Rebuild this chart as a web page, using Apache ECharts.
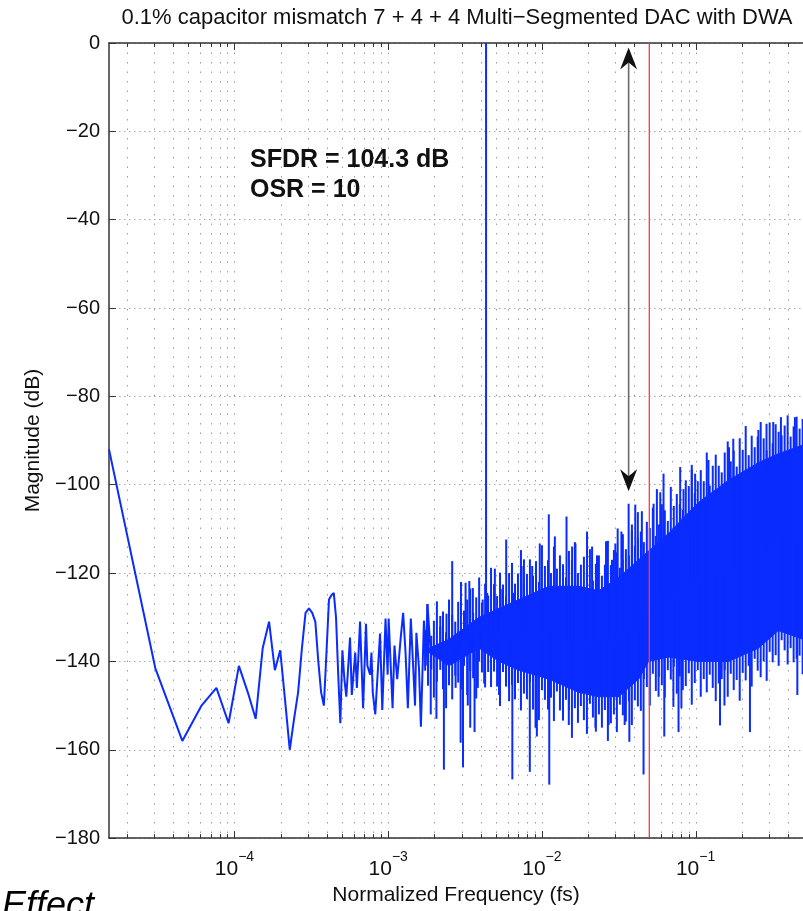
<!DOCTYPE html>
<html><head><meta charset="utf-8">
<script src="https://cdn.jsdelivr.net/npm/echarts@6/dist/echarts.min.js"></script>
<style>html,body{margin:0;padding:0;background:#fff}#c{width:803px;height:911px}</style>
</head><body><div id="c"></div>
<script>
// ---------------- data ----------------
const NFFT = 65536;                 // FFT length, frequency = bin / NFFT (normalized to fs)
const titleText = '0.1% capacitor mismatch 7 + 4 + 4 Multi\u2212Segmented DAC with DWA';
const xAxisName = 'Normalized Frequency (fs)';
const yAxisName = 'Magnitude (dB)';
const annotationLines = ['SFDR = 104.3 dB', 'OSR = 10'];
const footerText = 'Effect';
const xTickExps = [-4, -3, -2, -1];
const yTicks = [0, -20, -40, -60, -80, -100, -120, -140, -160, -180];

// low-frequency bins, drawn as a line [bin, dB]
const lowSpectrum = [
  [1,-92],[2,-141.5],[3,-158],[4,-150],[5,-146],[6,-154],[7,-141],[8,-147],[9,-153],[10,-137],
  [11,-131],[12,-142],[13,-137.5],[14,-149],[15,-160],[16,-153],[17,-147],[18,-137],[19,-129],[20,-128],
  [21,-129],[22,-131],[23,-140],[24,-147],[25,-150],[26,-138],[27,-126],[28,-125],[29,-124.5],[30,-130],
  [31,-143],[32,-154]
];
const midSpectrum = [
  [33,-137.5],[34,-144],[35,-148],[37,-134.6],[38,-147.6],[40,-138],[41,-146],[43,-131],[45,-150.6],[47,-131.5],
  [48,-141],[50,-143],[51,-138],[52,-147],[54,-152],[58,-133.7],[60,-151],[63,-130.3],[65,-143],[66,-130.3],
  [70,-150.6],[72,-136.4],[75,-144],[79,-134.8],[82,-129],[85,-138],[88,-150.6],[92,-130.3],[98,-150],[100,-133.5],
  [104,-141.6],[107,-154.8],[112,-130.8],[115,-141],[118,-127],[124,-138]
];
// dense part: per-column extent of the spectrum [bin, min dB, max dB]
const noiseColumns = [
  [114,-142.1,-132.9],[119,-145.5,-129.5],[125,-141.8,-134.2],[130,-148.2,-130.8],[136,-144.6,-126.4],[143,-141.9,-132.1],
  [149,-146.3,-128.7],[156,-150.6,-133.4],[163,-145,-126],[171,-148.6,-129.5],[179,-143.2,-131],[187,-144.8,-126.5],
  [195,-146.4,-122],[204,-141,-128.5],[214,-147.6,-126],[224,-142.2,-123.5],[234,-143.8,-129],[245,-148.4,-125.5],
  [256,-140,-121],[267,-142.5,-126.7],[280,-145.9,-122.4],[293,-142.4,-125.1],[306,-145.8,-118.8],[320,-142.3,-122.5],
  [335,-145.7,-125.2],[350,-150.1,-119.9],[366,-142.4,-122.6],[383,-145.7,-125.3],[401,-149,-120],[419,-145.3,-117.7],
  [438,-148.6,-122.4],[458,-144.9,-120.1],[479,-151.1,-114.8],[501,-147.3,-122.5],[524,-148.5,-120.2],[548,-144.7,-116.9],
  [574,-150.9,-120.6],[600,-147.1,-117.3],[627,-153.3,-122],[656,-146.5,-113.7],[686,-148.7,-118.4],[718,-150.9,-117.1],
  [751,-148.2,-120],[785,-153.5,-114],[821,-146.8,-119],[859,-151.1,-116],[899,-153.4,-118],[940,-148.7,-121],
  [983,-151,-115],[1028,-157.3,-117],[1075,-150.6,-113],[1125,-153.9,-120],[1176,-150.1,-118.1],[1230,-153.3,-116.3],
  [1287,-156.4,-119.4],[1346,-149.6,-114.6],[1408,-152.7,-121.7],[1472,-155.9,-117.9],[1540,-152,-116],[1611,-155,-120.6],
  [1685,-151,-118.1],[1762,-158,-112.7],[1843,-154,-118.2],[1928,-152,-114.8],[2016,-156,-115.3],[2109,-149.8,-118.8],
  [2205,-152.2,-111.2],[2307,-153.6,-114.6],[2413,-149,-116],[2523,-154.4,-110.4],[2639,-148.8,-113.8],[2760,-150.2,-106.2],
  [2887,-151.2,-110.6],[3020,-144,-113],[3158,-145.8,-108.4],[3303,-150,-109.8],[3455,-142.8,-105.2],[3614,-146.7,-111.6],
  [3780,-143.5,-109],[3953,-145.4,-104.4],[4134,-148.2,-105.8],[4324,-142,-108.2],[4523,-144.1,-100.5],[4730,-141.2,-104.8],
  [4947,-147.3,-102.1],[5175,-143.4,-104.4],[5412,-146.5,-105.7],[5660,-145.6,-99],[5920,-142.7,-100.3],[6192,-149.8,-96.6],
  [6476,-144.9,-101.9],[6773,-142,-99.2],[7084,-148,-96.7],[7410,-144,-99.2],[7750,-147,-92.7],[8105,-143,-100.2],
  [8477,-146,-95.7],[8866,-149,-93.2],[9274,-145,-95.7],[9699,-144,-97.2],[10144,-142,-92.7],[10610,-148,-90.2],
  [11097,-142.8,-94.7],[11606,-146.5,-92.3],[12139,-144.2,-95.9],[12696,-148.9,-89.5],[13279,-142.6,-92.1],[13888,-144.3,-86.7],
  [14526,-141,-93.3],[15193,-145.7,-88.9],[15890,-139.4,-91.5],[16619,-142.1,-89.1],[17382,-143.6,-85.8],[18180,-140,-89.5],
  [19015,-144.4,-92.2],[19887,-137.8,-85.9],[20800,-140.2,-90.6],[21755,-138.6,-86.3],[22753,-141,-88],[23798,-135.2,-88.8],
  [24890,-137.5,-86.6],[26032,-140.7,-84.3],[27227,-137,-89.1],[28477,-140.2,-86.8],[29784,-139.4,-84.6],[31151,-138.7,-87.3],
  [32581,-142.9,-85.1]
];
// tall spurs and deep notches [bin, min dB, max dB]
const spurColumns = [
  [112,-138,-130.8],[118,-138,-127],[124,-152,-138],[135,-153,-138],[143,-138,-129.7],[151,-164.5,-138],
  [157,-138,-129.2],[163,-145.4,-138],[171,-137,-117.3],[180,-146,-136],[194,-158.4,-136],[201,-164,-135],
  [209,-135,-122.2],[216,-150,-135],[221,-135,-121.8],[224,-155,-134],[233,-134,-123.4],[239,-156,-134],
  [251,-146,-134],[270,-134,-126],[276,-145,-134],[284,-134,0],[289,-134,-124.5],[324,-134,-119],
  [345,-147.6,-134],[362,-134,-123.6],[384,-134,-112.4],[400,-146,-134],[421,-166.7,-134],[431,-134,-124.5],
  [484,-134,-118.4],[501,-134,-116.9],[547,-165,-134],[567,-134,-118.4],[596,-155,-134],[608,-157,-134],
  [635,-134,-113.3],[727,-134,-106.7],[732,-167.9,-134],[796,-134,-111.7],[948,-135,-107.2],[981,-154.4,-135],
  [1031,-135,-114],[1084,-135,-113.3],[1289,-135,-110.6],[1390,-136,-114],[1462,-155,-136],[1497,-136,-116],
  [1714,-136,-112.8],[1783,-154.4,-136],[1874,-135,-117],[1971,-135,-113.3],[2040,-135,-109.9],[2157,-134,-110.6],
  [2199,-134,-117],[2265,-154.4,-134],[2404,-133,-104.3],[2430,-158.2,-133],[2525,-132,-109],[2655,-131,-104.5],
  [2761,-131,-112],[2931,-130,-106],[3006,-165.6,-130],[3493,-127,-104.3],[3671,-127,-101],[3765,-148,-127],
  [3862,-126,-101.7],[4055,-126,-97.5],[4100,-157,-126],[4700,-150.3,-125],[5077,-156,-124],[5204,-124,-96],
  [5300,-150.6,-124],[5470,-124,-101],[6190,-123,-95.5],[6511,-122,-97.5],[7951,-121,-94.4],[9450,-154.5,-120],
  [10100,-150,-120],[10817,-119,-91.5],[11528,-119,-89.6],[14800,-156,-117],[16790,-116,-87.6],[18970,-115,-86.2],
  [20980,-114,-85.8],[23540,-113,-84.7],[29030,-113,-84.7],[30100,-147.6,-113]
];
// solid noise core [bin, low dB, high dB]
const noiseCore = [
  [121,-138,-137],[163,-141,-135],[256,-137,-130],[345,-140,-128],[465,-142,-126],[727,-144,-123],
  [1138,-147,-123],[1535,-148,-124],[2070,-148,-121],[2792,-144,-117],[3242,-140,-115],[4372,-139,-111],
  [6847,-140,-104],[10722,-140,-99],[16790,-137,-95],[22642,-133,-93],[32768,-135,-91]
];
const bandEdge = 0.05;               // fs / (2*OSR)
const sfdrArrow = [2404, -1, -101.5]; // [bin, top dB, bottom dB]

// ---------------- chart ----------------
const BLUE = '#0a2cff';
const FONT = '"Liberation Sans", Arial, Helvetica, sans-serif';
const xMin = 1 / NFFT, xMax = 0.5, yMin = -180, yMax = 0;
const lineData = lowSpectrum.concat(midSpectrum).map(d => [d[0] / NFFT, d[1]]);
const columns = noiseColumns.concat(spurColumns).map(d => [d[0] / NFFT, d[1], d[2]]);
const core = noiseCore.map(d => [d[0] / NFFT, d[1], d[2]]);
const gridLines = [];
for (let e = -5; e <= -1; e++) {
  for (let m = 1; m <= 9; m++) {
    const v = m * Math.pow(10, e);
    if (v > xMin * 1.0001 && v < xMax * 0.9999) gridLines.push([v, -90, m === 1 ? 1 : 0]);
  }
}

const chart = echarts.init(document.getElementById('c'));
const xLabelFmt = v => {
  const l = Math.log10(v), e = Math.round(l);
  if (Math.abs(l - e) > 1e-6 || xTickExps.indexOf(e) < 0) return '';
  return '{b|10}{s|' + (e < 0 ? '\u2212' : '') + Math.abs(e) + '}';
};
const axisColor = '#333';
chart.setOption({
  animation: false,
  backgroundColor: '#fff',
  grid: { left: 109, top: 43, right: -2, bottom: 67, containLabel: false },
  xAxis: [{
    type: 'log', logBase: 10, min: xMin, max: xMax, position: 'bottom',
    axisLine: { show: true, onZero: false, lineStyle: { color: axisColor, width: 1.5 } },
    axisTick: { show: false }, minorTick: { show: false }, splitLine: { show: false },
    axisLabel: {
      formatter: xLabelFmt, margin: 12, showMinLabel: false, showMaxLabel: false,
      rich: {
        b: { fontSize: 21, fontFamily: FONT, color: '#111', lineHeight: 30, verticalAlign: 'bottom' },
        s: { fontSize: 14, fontFamily: FONT, color: '#111', lineHeight: 14, verticalAlign: 'top' }
      }
    },
    name: xAxisName, nameLocation: 'middle', nameGap: 42,
    nameTextStyle: { fontSize: 21, fontFamily: FONT, color: '#111' }
  }, {
    type: 'log', logBase: 10, min: xMin, max: xMax, position: 'top',
    axisLine: { show: true, onZero: false, lineStyle: { color: axisColor, width: 1.5 } },
    axisTick: { show: false }, axisLabel: { show: false }, splitLine: { show: false }
  }],
  yAxis: [{
    type: 'value', min: yMin, max: yMax, interval: 20,
    axisLine: { show: true, onZero: false, lineStyle: { color: axisColor, width: 1.5 } },
    axisTick: { show: true, inside: true, length: 7, lineStyle: { color: axisColor, width: 1 } },
    axisLabel: {
      formatter: v => (yTicks.indexOf(v) < 0 ? '' : (v === 0 ? '0' : '\u2212' + Math.abs(v))),
      fontSize: 20, fontFamily: FONT, color: '#111', margin: 9
    },
    splitLine: { show: true, lineStyle: { color: '#a8a8a8', width: 1, type: [1.5, 3.5] } },
    name: yAxisName, nameLocation: 'middle', nameGap: 64,
    nameTextStyle: { fontSize: 21, fontFamily: FONT, color: '#111' }
  }],
  series: [
    { // log grid (dotted) and minor/major ticks
      type: 'custom', z: 1, silent: true, data: gridLines,
      encode: { x: 0, y: 1 },
      renderItem: (params, api) => {
        const f = api.value(0), major = api.value(2) === 1;
        const t = api.coord([f, yMax]), b = api.coord([f, yMin]);
        const x = Math.round(t[0]) + 0.5, len = major ? 7 : 4;
        return { type: 'group', children: [
          { type: 'line', shape: { x1: x, y1: t[1], x2: x, y2: b[1] }, style: { stroke: '#9c9c9c', lineWidth: 1, lineDash: [1.5, 8] } },
          { type: 'line', shape: { x1: x, y1: b[1], x2: x, y2: b[1] - len }, style: { stroke: axisColor, lineWidth: 1 } },
          { type: 'line', shape: { x1: x, y1: t[1], x2: x, y2: t[1] + len }, style: { stroke: axisColor, lineWidth: 1 } }
        ] };
      }
    },
    { // solid noise core
      type: 'custom', z: 2, silent: true, clip: true, data: core,
      encode: { x: 0, y: [1, 2] },
      renderItem: (params, api) => {
        const i = params.dataIndex;
        if (i >= core.length - 1) return null;
        const a = core[i], n = core[i + 1];
        const pts = [api.coord([a[0], a[2]]), api.coord([n[0], n[2]]), api.coord([n[0], n[1]]), api.coord([a[0], a[1]])];
        return { type: 'polygon', shape: { points: pts }, style: { fill: BLUE, stroke: BLUE, lineWidth: 1 } };
      }
    },
    { // dense spectrum, one vertical stroke per column
      type: 'custom', z: 3, silent: true, clip: true, data: columns,
      encode: { x: 0, y: [1, 2] },
      renderItem: (params, api) => {
        const f = api.value(0);
        const a = api.coord([f, api.value(1)]), b = api.coord([f, api.value(2)]);
        return { type: 'line', shape: { x1: a[0], y1: a[1], x2: b[0], y2: b[1] }, style: { stroke: BLUE, lineWidth: 2 } };
      }
    },
    {
      type: 'line', z: 3, data: lineData, showSymbol: false, clip: true, sampling: 'none',
      lineStyle: { color: BLUE, width: 2 }, itemStyle: { color: BLUE }
    },
    {
      type: 'line', z: 4, data: [[bandEdge, yMax], [bandEdge, yMin]], showSymbol: false,
      lineStyle: { color: '#ff3a3a', width: 1.3 }
    },
    { // double-headed SFDR arrow
      type: 'custom', z: 5, silent: true, data: [[sfdrArrow[0] / NFFT, sfdrArrow[1], sfdrArrow[2]]],
      encode: { x: 0, y: [1, 2] },
      renderItem: (params, api) => {
        const f = api.value(0);
        const t = api.coord([f, api.value(1)]), b = api.coord([f, api.value(2)]);
        const x = t[0], hl = 22, hw = 8.5, notch = 15;
        return { type: 'group', children: [
          { type: 'line', shape: { x1: x, y1: t[1] + notch, x2: x, y2: b[1] - notch }, style: { stroke: '#6a6a6a', lineWidth: 1.6 } },
          { type: 'polygon', shape: { points: [[x, t[1]], [x + hw, t[1] + hl], [x, t[1] + notch], [x - hw, t[1] + hl]] }, style: { fill: '#111' } },
          { type: 'polygon', shape: { points: [[x, b[1]], [x + hw, b[1] - hl], [x, b[1] - notch], [x - hw, b[1] - hl]] }, style: { fill: '#111' } }
        ] };
      }
    }
  ],
  graphic: [
    { type: 'text', x: 457, y: 18, z: 10, style: { text: titleText, align: 'center', verticalAlign: 'middle', font: '22px ' + FONT, fill: '#111' } },
    { type: 'text', x: 250, y: 160, z: 10, style: { text: annotationLines[0], align: 'left', verticalAlign: 'middle', font: 'bold 25px ' + FONT, fill: '#111' } },
    { type: 'text', x: 250, y: 190, z: 10, style: { text: annotationLines[1], align: 'left', verticalAlign: 'middle', font: 'bold 25px ' + FONT, fill: '#111' } },
    { type: 'text', x: 2, y: 889, z: 10, style: { text: footerText, align: 'left', verticalAlign: 'top', font: 'italic 36px ' + FONT, fill: '#000' } }
  ]
});
</script></body></html>
